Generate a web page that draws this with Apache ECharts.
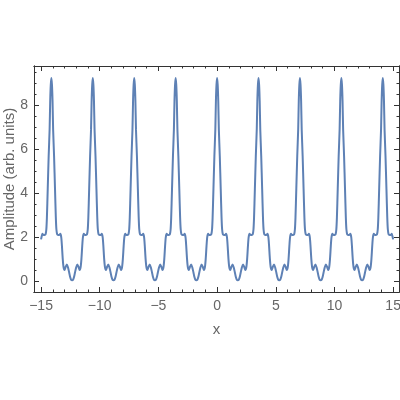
<!DOCTYPE html>
<html>
<head>
<meta charset="utf-8">
<script src="https://cdn.jsdelivr.net/npm/echarts@6/dist/echarts.min.js"></script>
<style>html,body{margin:0;padding:0;background:#fff}#c{width:400px;height:400px}</style>
</head>
<body>
<div id="c"></div>
<script>
const xTicks = [-15, -10, -5, 0, 5, 10, 15];
const yTicks = [0, 2, 4, 6, 8];
const xMinorTicks = [-15,-14,-13,-12,-11,-10,-9,-8,-7,-6,-5,-4,-3,-2,-1,0,1,2,3,4,5,6,7,8,9,10,11,12,13,14,15];
const yMinorTicks = [-0.5,0,0.5,1,1.5,2,2.5,3,3.5,4,4.5,5,5.5,6,6.5,7,7.5,8,8.5,9,9.5];

const xValues = [
  -15, -14.96, -14.88, -14.78, -14.7, -14.62, -14.55, -14.5, -14.43, -14.35, -14.27, -14.22, -14.17, -14.12,
  -14.07, -14.02, -13.97, -13.89, -13.81, -13.74, -13.69, -13.62, -13.54, -13.46, -13.36, -13.28, -13.22, -13.15, -13.08, -13.0, -12.9, -12.8, -12.7, -12.6, -12.52, -12.44, -12.355,
  -12.27, -12.19, -12.11, -12.01, -11.91, -11.81, -11.71, -11.63, -11.56, -11.49, -11.43, -11.35, -11.25, -11.17, -11.09, -11.02, -10.97, -10.9, -10.82, -10.74, -10.69, -10.64, -10.59,
  -10.54, -10.49, -10.44, -10.36, -10.28, -10.21, -10.16, -10.09, -10.01, -9.93, -9.83, -9.75, -9.69, -9.62, -9.55, -9.47, -9.37, -9.27, -9.17, -9.07, -8.99, -8.91, -8.825,
  -8.74, -8.66, -8.58, -8.48, -8.38, -8.28, -8.18, -8.1, -8.03, -7.96, -7.9, -7.82, -7.72, -7.64, -7.56, -7.49, -7.44, -7.37, -7.29, -7.21, -7.16, -7.11, -7.06,
  -7.01, -6.96, -6.91, -6.83, -6.75, -6.68, -6.63, -6.56, -6.48, -6.4, -6.3, -6.22, -6.16, -6.09, -6.02, -5.94, -5.84, -5.74, -5.64, -5.54, -5.46, -5.38, -5.295,
  -5.21, -5.13, -5.05, -4.95, -4.85, -4.75, -4.65, -4.57, -4.5, -4.43, -4.37, -4.29, -4.19, -4.11, -4.03, -3.96, -3.91, -3.84, -3.76, -3.68, -3.63, -3.58, -3.53,
  -3.48, -3.43, -3.38, -3.3, -3.22, -3.15, -3.1, -3.03, -2.95, -2.87, -2.77, -2.69, -2.63, -2.56, -2.49, -2.41, -2.31, -2.21, -2.11, -2.01, -1.93, -1.85, -1.765,
  -1.68, -1.6, -1.52, -1.42, -1.32, -1.22, -1.12, -1.04, -0.97, -0.9, -0.84, -0.76, -0.66, -0.58, -0.5, -0.43, -0.38, -0.31, -0.23, -0.15, -0.1, -0.05, 0,
  0.05, 0.1, 0.15, 0.23, 0.31, 0.38, 0.43, 0.5, 0.58, 0.66, 0.76, 0.84, 0.9, 0.97, 1.04, 1.12, 1.22, 1.32, 1.42, 1.52, 1.6, 1.68, 1.765,
  1.85, 1.93, 2.01, 2.11, 2.21, 2.31, 2.41, 2.49, 2.56, 2.63, 2.69, 2.77, 2.87, 2.95, 3.03, 3.1, 3.15, 3.22, 3.3, 3.38, 3.43, 3.48, 3.53,
  3.58, 3.63, 3.68, 3.76, 3.84, 3.91, 3.96, 4.03, 4.11, 4.19, 4.29, 4.37, 4.43, 4.5, 4.57, 4.65, 4.75, 4.85, 4.95, 5.05, 5.13, 5.21, 5.295,
  5.38, 5.46, 5.54, 5.64, 5.74, 5.84, 5.94, 6.02, 6.09, 6.16, 6.22, 6.3, 6.4, 6.48, 6.56, 6.63, 6.68, 6.75, 6.83, 6.91, 6.96, 7.01, 7.06,
  7.11, 7.16, 7.21, 7.29, 7.37, 7.44, 7.49, 7.56, 7.64, 7.72, 7.82, 7.9, 7.96, 8.03, 8.1, 8.18, 8.28, 8.38, 8.48, 8.58, 8.66, 8.74, 8.825,
  8.91, 8.99, 9.07, 9.17, 9.27, 9.37, 9.47, 9.55, 9.62, 9.69, 9.75, 9.83, 9.93, 10.01, 10.09, 10.16, 10.21, 10.28, 10.36, 10.44, 10.49, 10.54, 10.59,
  10.64, 10.69, 10.74, 10.82, 10.9, 10.97, 11.02, 11.09, 11.17, 11.25, 11.35, 11.43, 11.49, 11.56, 11.63, 11.71, 11.81, 11.91, 12.01, 12.11, 12.19, 12.27, 12.355,
  12.44, 12.52, 12.6, 12.7, 12.8, 12.9, 13.0, 13.08, 13.15, 13.22, 13.28, 13.36, 13.46, 13.54, 13.62, 13.69, 13.74, 13.81, 13.89, 13.97, 14.02, 14.07, 14.12,
  14.17, 14.22, 14.27, 14.35, 14.43, 14.5, 14.55, 14.62, 14.7, 14.78, 14.88, 14.96, 15
];

const yValues = [
  1.9, 2.0, 2.15, 2.1, 2.1, 2.12, 2.35, 2.9, 4.2, 5.7, 6.9, 8.2, 8.95, 9.25,
  8.95, 8.2, 6.9, 5.7, 4.2, 2.9, 2.35, 2.12, 2.1, 2.1, 2.15, 2.0, 1.6, 1.0, 0.62, 0.5, 0.65, 0.75, 0.62, 0.38, 0.18, 0.06, 0.03,
  0.06, 0.18, 0.38, 0.62, 0.75, 0.65, 0.5, 0.62, 1.0, 1.6, 2.0, 2.15, 2.1, 2.1, 2.12, 2.35, 2.9, 4.2, 5.7, 6.9, 8.2, 8.95, 9.25,
  8.95, 8.2, 6.9, 5.7, 4.2, 2.9, 2.35, 2.12, 2.1, 2.1, 2.15, 2.0, 1.6, 1.0, 0.62, 0.5, 0.65, 0.75, 0.62, 0.38, 0.18, 0.06, 0.03,
  0.06, 0.18, 0.38, 0.62, 0.75, 0.65, 0.5, 0.62, 1.0, 1.6, 2.0, 2.15, 2.1, 2.1, 2.12, 2.35, 2.9, 4.2, 5.7, 6.9, 8.2, 8.95, 9.25,
  8.95, 8.2, 6.9, 5.7, 4.2, 2.9, 2.35, 2.12, 2.1, 2.1, 2.15, 2.0, 1.6, 1.0, 0.62, 0.5, 0.65, 0.75, 0.62, 0.38, 0.18, 0.06, 0.03,
  0.06, 0.18, 0.38, 0.62, 0.75, 0.65, 0.5, 0.62, 1.0, 1.6, 2.0, 2.15, 2.1, 2.1, 2.12, 2.35, 2.9, 4.2, 5.7, 6.9, 8.2, 8.95, 9.25,
  8.95, 8.2, 6.9, 5.7, 4.2, 2.9, 2.35, 2.12, 2.1, 2.1, 2.15, 2.0, 1.6, 1.0, 0.62, 0.5, 0.65, 0.75, 0.62, 0.38, 0.18, 0.06, 0.03,
  0.06, 0.18, 0.38, 0.62, 0.75, 0.65, 0.5, 0.62, 1.0, 1.6, 2.0, 2.15, 2.1, 2.1, 2.12, 2.35, 2.9, 4.2, 5.7, 6.9, 8.2, 8.95, 9.25,
  8.95, 8.2, 6.9, 5.7, 4.2, 2.9, 2.35, 2.12, 2.1, 2.1, 2.15, 2.0, 1.6, 1.0, 0.62, 0.5, 0.65, 0.75, 0.62, 0.38, 0.18, 0.06, 0.03,
  0.06, 0.18, 0.38, 0.62, 0.75, 0.65, 0.5, 0.62, 1.0, 1.6, 2.0, 2.15, 2.1, 2.1, 2.12, 2.35, 2.9, 4.2, 5.7, 6.9, 8.2, 8.95, 9.25,
  8.95, 8.2, 6.9, 5.7, 4.2, 2.9, 2.35, 2.12, 2.1, 2.1, 2.15, 2.0, 1.6, 1.0, 0.62, 0.5, 0.65, 0.75, 0.62, 0.38, 0.18, 0.06, 0.03,
  0.06, 0.18, 0.38, 0.62, 0.75, 0.65, 0.5, 0.62, 1.0, 1.6, 2.0, 2.15, 2.1, 2.1, 2.12, 2.35, 2.9, 4.2, 5.7, 6.9, 8.2, 8.95, 9.25,
  8.95, 8.2, 6.9, 5.7, 4.2, 2.9, 2.35, 2.12, 2.1, 2.1, 2.15, 2.0, 1.6, 1.0, 0.62, 0.5, 0.65, 0.75, 0.62, 0.38, 0.18, 0.06, 0.03,
  0.06, 0.18, 0.38, 0.62, 0.75, 0.65, 0.5, 0.62, 1.0, 1.6, 2.0, 2.15, 2.1, 2.1, 2.12, 2.35, 2.9, 4.2, 5.7, 6.9, 8.2, 8.95, 9.25,
  8.95, 8.2, 6.9, 5.7, 4.2, 2.9, 2.35, 2.12, 2.1, 2.1, 2.15, 2.0, 1.6, 1.0, 0.62, 0.5, 0.65, 0.75, 0.62, 0.38, 0.18, 0.06, 0.03,
  0.06, 0.18, 0.38, 0.62, 0.75, 0.65, 0.5, 0.62, 1.0, 1.6, 2.0, 2.15, 2.1, 2.1, 2.12, 2.35, 2.9, 4.2, 5.7, 6.9, 8.2, 8.95, 9.25,
  8.95, 8.2, 6.9, 5.7, 4.2, 2.9, 2.35, 2.12, 2.1, 2.1, 2.15, 2.0, 1.9
];

const seriesData = xValues.map((x, i) => [x, yValues[i]]);

const XMIN = -15.6, XMAX = 15.5, YMIN = -0.5, YMAX = 9.8;
const frameColor = '#333';
const labelColor = '#666';
const fontFamily = 'Liberation Sans, Arial, sans-serif';
const fmt = v => (v < 0 ? '\u2212' + Math.abs(v) : String(v));

function axis(kind, position, ticks, tickLen, withLabels, extra) {
  const a = {
    type: 'value',
    min: kind === 'x' ? XMIN : YMIN,
    max: kind === 'x' ? XMAX : YMAX,
    position: position,
    axisLine: { show: true, onZero: false, lineStyle: { color: frameColor, width: 1 } },
    axisTick: { show: true, inside: true, length: tickLen, customValues: ticks, lineStyle: { color: frameColor, width: 1 } },
    axisLabel: withLabels
      ? { show: true, customValues: ticks, formatter: fmt, color: labelColor, fontSize: 14, fontFamily: fontFamily, margin: kind === 'x' ? 7 : 6 }
      : { show: false },
    splitLine: { show: false },
    minorTick: { show: false }
  };
  return Object.assign(a, extra || {});
}

const chart = echarts.init(document.getElementById('c'), null, { renderer: 'canvas' });
chart.setOption({
  animation: false,
  backgroundColor: '#fff',
  grid: { left: 34, right: 1, top: 66, bottom: 108, containLabel: false, outerBoundsMode: 'none' },
  xAxis: [
    axis('x', 'bottom', xTicks, 5, true, {
      name: 'x', nameLocation: 'middle', nameGap: 30, nameMoveOverlap: false,
      nameTextStyle: { color: labelColor, fontSize: 15, fontFamily: fontFamily }
    }),
    axis('x', 'bottom', xMinorTicks, 2.5, false),
    axis('x', 'top', xTicks, 5, false),
    axis('x', 'top', xMinorTicks, 2.5, false)
  ],
  yAxis: [
    axis('y', 'left', yTicks, 5, true, {
      name: 'Amplitude (arb. units)', nameLocation: 'middle', nameGap: 17, nameRotate: 90, nameMoveOverlap: false,
      nameTextStyle: { color: labelColor, fontSize: 15, fontFamily: fontFamily }
    }),
    axis('y', 'left', yMinorTicks, 2.5, false),
    axis('y', 'right', yTicks, 5, false),
    axis('y', 'right', yMinorTicks, 2.5, false)
  ],
  series: [{
    type: 'line',
    xAxisIndex: 0,
    yAxisIndex: 0,
    data: seriesData,
    showSymbol: false,
    smooth: 0.25,
    lineStyle: { color: '#5E81B5', width: 2 },
    itemStyle: { color: '#5E81B5' },
    clip: true
  }]
});
</script>
</body>
</html>
